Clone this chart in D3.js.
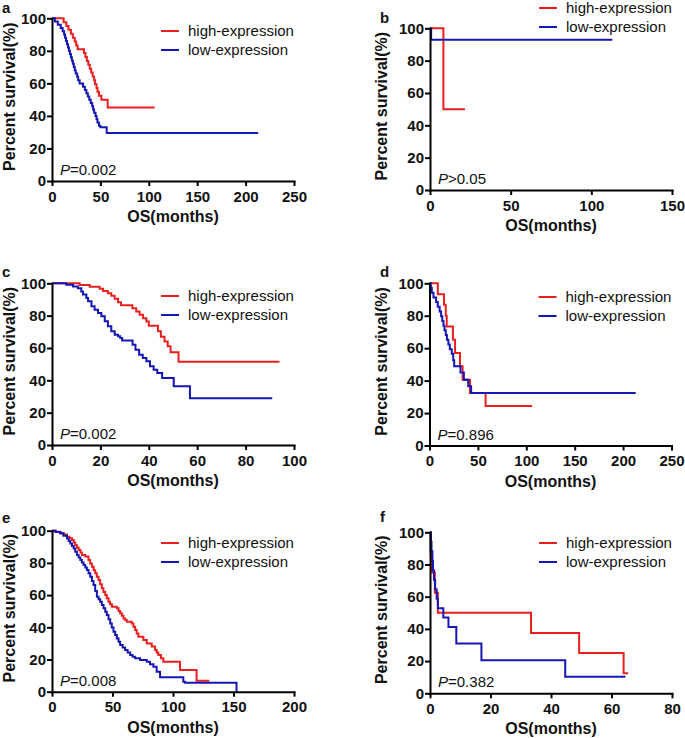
<!DOCTYPE html>
<html><head><meta charset="utf-8">
<script src="https://cdn.jsdelivr.net/npm/d3@7"></script>
<style>
html,body{margin:0;padding:0;background:#fff;}
svg{display:block;font-family:"Liberation Sans",Arial,Helvetica,sans-serif;}
</style></head><body>
<svg id="chart" width="685" height="738"></svg>
<script>
// ---------------- DATA ----------------
const panelLetters = ["a", "b", "c", "d", "e", "f"];
const seriesNames = ["high-expression", "low-expression"];
const pLabels = ["=0.002", ">0.05", "=0.002", "=0.896", "=0.008", "=0.382"];
const xTitle = "OS(months)";
const yTitle = "Percent survival(%)";
const yTicks = [0, 20, 40, 60, 80, 100];
const xTicksA = [0, 50, 100, 150, 200, 250];
const xTicksB = [0, 50, 100, 150];
const xTicksC = [0, 20, 40, 60, 80, 100];
const xTicksD = [0, 50, 100, 150, 200, 250];
const xTicksE = [0, 50, 100, 150, 200];
const xTicksF = [0, 20, 40, 60, 80];

// Kaplan-Meier steps: [month, percent survival]; last follow-up month separately
const aHigh = [[0,100],[12,97.6],[14.8,95.2],[17,92.9],[19.5,90.5],[21.5,88.1],[23.5,85.7],[25,83.3],[26.5,81],[33,78.6],[34.5,76.2],[36,73.8],[37.5,71.4],[39,69],[40.5,66.7],[42,64.3],[43.5,61.9],[44.5,59.5],[46,57.1],[47,54.8],[48.5,52.4],[51,50],[57.5,45.2]];
const aHighEnd = 106;
const aLow = [[0,100],[3,98],[6,96],[9,94],[11,92],[12.5,90],[13.5,88],[14.5,86],[15.5,84],[16.5,82],[17.5,80],[18.5,78],[19.5,76],[20.5,74],[21.5,72],[22.5,70],[23.5,68],[24.5,66],[26,64],[27,62],[28.5,60],[32,58],[34,56],[35.5,54],[37,52],[38.5,50],[40,48],[41.5,46],[42.5,44],[43.5,42],[45,40],[46,38],[47,36],[48.5,34],[50,33],[56.5,29.5]];
const aLowEnd = 213;

const bHigh = [[0,100],[8.3,50]];
const bHighEnd = 21.7;
const bLow = [[0,100],[0.7,92.9]];
const bLowEnd = 113;

const cHigh = [[0,100],[11.4,98.9],[15.6,97.8],[19.7,96.7],[21.1,95.2],[23.1,93.9],[24.5,92.3],[25.9,90.4],[27.3,88.3],[28.5,86.5],[33.2,84.6],[34.8,82.6],[36.2,80.5],[37.6,78.4],[39,76.3],[40,73.8],[43.8,70.3],[45,67],[46.5,64],[47.8,61],[49,57.3],[52.3,51.5]];
const cHighEnd = 94;
const cLow = [[0,100],[5.9,99.1],[8.7,98],[10.7,96.9],[12.1,95],[12.8,93],[14.2,90.9],[14.9,88.9],[16.3,85.8],[17.6,83.7],[19,81.6],[20.4,79.6],[21.8,76.5],[23.1,73.4],[24.5,70.3],[25.9,68.2],[27.3,67.2],[28.2,66.2],[29,64.7],[33.3,62],[34.5,58.9],[36,55.8],[37.5,53.8],[39,51.8],[40.5,48.7],[42,46.6],[43.5,44.5],[45.5,41.4],[50.3,36.3],[57,28.9]];
const cLowEnd = 91;

const dHigh = [[0,100],[8.6,93.3],[15,86.7],[16.8,80],[17.8,73.3],[24.2,65.2],[26.4,57],[31.5,48.8],[34.2,40.6],[41.8,32.4],[57.9,24.4]];
const dHighEnd = 106;
const dLow = [[0,100],[1.4,97.1],[2.4,94.2],[4.1,91.3],[6.8,88.4],[8.5,85.5],[10.5,82.6],[12,79.7],[13.2,76.8],[14.4,73.9],[15.5,71],[16.8,68.1],[18,65.2],[19.5,62.3],[21,59.4],[23,56.5],[24.5,52.6],[25.5,48.8],[32,45],[35.5,40.6],[40,36.5],[43,32.4]];
const dLowEnd = 213;

const eHigh = [[0,100],[3,99.3],[6.9,98.6],[9.5,97.6],[12.4,96.3],[14.5,95.3],[16.5,94.2],[18,92.6],[19.2,91.1],[20.5,89.5],[22,88],[23.5,86.4],[24.7,84.9],[27.5,83.9],[30.2,81.8],[31.5,79.6],[33,77.6],[34.4,75.5],[35.7,73.5],[37,71.4],[38.5,69.4],[39.8,66.8],[41.2,64.2],[42.5,62],[44,60],[45.3,58],[46.7,55.9],[48,54.3],[49.5,52.8],[53.6,51.8],[55,50.2],[56.3,48.7],[57.7,47.1],[59.1,45.5],[60.5,44.5],[61.8,43.5],[65.9,42.4],[67.3,40.3],[68.7,38.3],[70,36.2],[71.4,34.2],[75.5,32.1],[78.3,30],[82.4,28],[85.2,25.9],[86.5,24.3],[87.9,22.8],[90,20.7],[92,18.6],[105.8,13.5],[119.5,6.8]];
const eHighEnd = 130;
const eLow = [[0,100],[3,99.2],[6.9,98.3],[9.5,96.8],[12.4,95.2],[13.8,93.6],[15.1,92.1],[16.5,90.5],[17.9,89],[19.2,87],[20.6,84.9],[22,83.3],[23.4,81.8],[24.7,80.2],[26.1,78.7],[27.5,77.1],[28.8,75.6],[30.2,73.5],[31.6,71.4],[33,68.8],[34.3,66.3],[35.7,62.6],[37.1,59],[38.5,57.4],[39.8,55.9],[41.2,53.8],[42.6,51.8],[44,49.7],[45.3,47.6],[46.7,45],[48.1,42.4],[49.4,39.8],[50.8,37.3],[52.2,35.2],[53.6,33.1],[55,31],[56.3,29],[58.4,27.5],[60.4,25.9],[62.5,24.3],[64.6,22.8],[66.6,21.7],[68.7,20.7],[72.8,19.7],[78.3,18.6],[81,17],[83.8,15.5],[86.5,12.4],[89.3,8.9],[108.5,6.2],[110,5.6],[152.5,0]];
const eLowEnd = 152.5;

const fHigh = [[0,100],[0.2,87.5],[0.5,75],[1.6,62.5],[2.6,50],[33.4,37.5],[49.3,25],[64,12.5]];
const fHighEnd = 65.5;
const fLow = [[0,100],[0.3,94.1],[0.5,88.2],[0.8,82.4],[1,76.5],[1.3,70.6],[1.7,64.7],[2.2,58.8],[2.6,52.9],[4.4,47.1],[6.1,41.2],[8.7,30.9],[17,20.6],[44.7,10.3]];
const fLowEnd = 64.6;

// ---------------- LAYOUT ----------------
const colors = ["#e8201f", "#1616b4"];
const layout = [
  {left: 52,  top: 18.3,  bottom: 181,   legY: 31,  letX: 2,   letY: 13, yt: 37},
  {left: 430, top: 28.3,  bottom: 190,   legY: 8,   letX: 380, letY: 23, yt: 43},
  {left: 52,  top: 283.3, bottom: 445,   legY: 296, letX: 2,   letY: 277, yt: 37},
  {left: 429.5, top: 283.3, bottom: 445.5, legY: 297, letX: 380, letY: 277, yt: 43},
  {left: 52,  top: 530.7, bottom: 691.7, legY: 543, letX: 2,   letY: 523, yt: 37},
  {left: 430, top: 532.3, bottom: 693.3, legY: 543, letX: 380, letY: 522, yt: 43}
];
const plotW = 242;

const panels = [
  {ticks: xTicksA, series: [[aHigh, aHighEnd], [aLow, aLowEnd]]},
  {ticks: xTicksB, series: [[bHigh, bHighEnd], [bLow, bLowEnd]]},
  {ticks: xTicksC, series: [[cHigh, cHighEnd], [cLow, cLowEnd]]},
  {ticks: xTicksD, series: [[dHigh, dHighEnd], [dLow, dLowEnd]]},
  {ticks: xTicksE, series: [[eHigh, eHighEnd], [eLow, eLowEnd]]},
  {ticks: xTicksF, series: [[fHigh, fHighEnd], [fLow, fLowEnd]]}
];

const svg = d3.select("#chart");

panels.forEach((p, i) => {
  const L = layout[i];
  const x = d3.scaleLinear().domain([0, d3.max(p.ticks)]).range([L.left, L.left + plotW]);
  const y = d3.scaleLinear().domain([0, 100]).range([L.bottom, L.top]);
  const g = svg.append("g");

  // curves
  const line = d3.line().x(d => x(d[0])).y(d => y(d[1])).curve(d3.curveStepAfter);
  p.series.forEach((s, k) => {
    const pts = s[0].slice();
    const last = pts[pts.length - 1];
    if (last[0] < s[1]) pts.push([s[1], last[1]]);
    g.append("path").datum(pts)
      .attr("d", line)
      .attr("fill", "none")
      .attr("stroke", colors[k])
      .attr("stroke-width", 2)
      .attr("stroke-linejoin", "miter");
  });

  // axes
  const xa = g.append("g").attr("transform", `translate(0,${L.bottom})`)
    .call(d3.axisBottom(x).tickValues(p.ticks).tickSize(5).tickPadding(5).tickSizeOuter(0));
  const ya = g.append("g").attr("transform", `translate(${L.left},0)`)
    .call(d3.axisLeft(y).tickValues(yTicks).tickSize(5).tickPadding(1).tickSizeOuter(0));
  [xa, ya].forEach(a => {
    a.select(".domain").attr("stroke", "#000").attr("stroke-width", 2).attr("stroke-linecap", "square");
    a.selectAll(".tick line").attr("stroke", "#000").attr("stroke-width", 2);
    a.selectAll(".tick text").attr("fill", "#111").attr("font-size", 15).attr("font-weight", "bold")
      .attr("font-family", '"Liberation Sans",Arial,sans-serif');
  });

  // axis titles
  g.append("text").attr("x", L.left + plotW / 2).attr("y", L.bottom + 41)
    .attr("text-anchor", "middle").attr("font-size", 16).attr("font-weight", "bold").attr("fill", "#111")
    .text(xTitle);
  const yc = (L.top + L.bottom) / 2 - 3;
  g.append("text").attr("transform", `translate(${L.left - L.yt},${yc}) rotate(-90)`)
    .attr("text-anchor", "middle").attr("font-size", 16).attr("font-weight", "bold").attr("fill", "#111")
    .text(yTitle);

  // panel letter
  g.append("text").attr("x", L.letX).attr("y", L.letY)
    .attr("font-size", 15).attr("font-weight", "bold").attr("fill", "#111").text(panelLetters[i]);

  // legend
  seriesNames.forEach((n, k) => {
    const ly = L.legY + k * 19;
    g.append("line").attr("x1", L.left + 109).attr("x2", L.left + 127)
      .attr("y1", ly).attr("y2", ly).attr("stroke", colors[k]).attr("stroke-width", 2);
    g.append("text").attr("x", L.left + 136).attr("y", ly).attr("dy", "0.35em")
      .attr("font-size", 15).attr("fill", "#111").text(n);
  });

  // p value
  const pt = g.append("text").attr("x", L.left + 8).attr("y", L.bottom - 6)
    .attr("font-size", 15).attr("fill", "#111");
  pt.append("tspan").attr("font-style", "italic").text("P");
  pt.append("tspan").text(pLabels[i]);
});
</script>
</body></html>
